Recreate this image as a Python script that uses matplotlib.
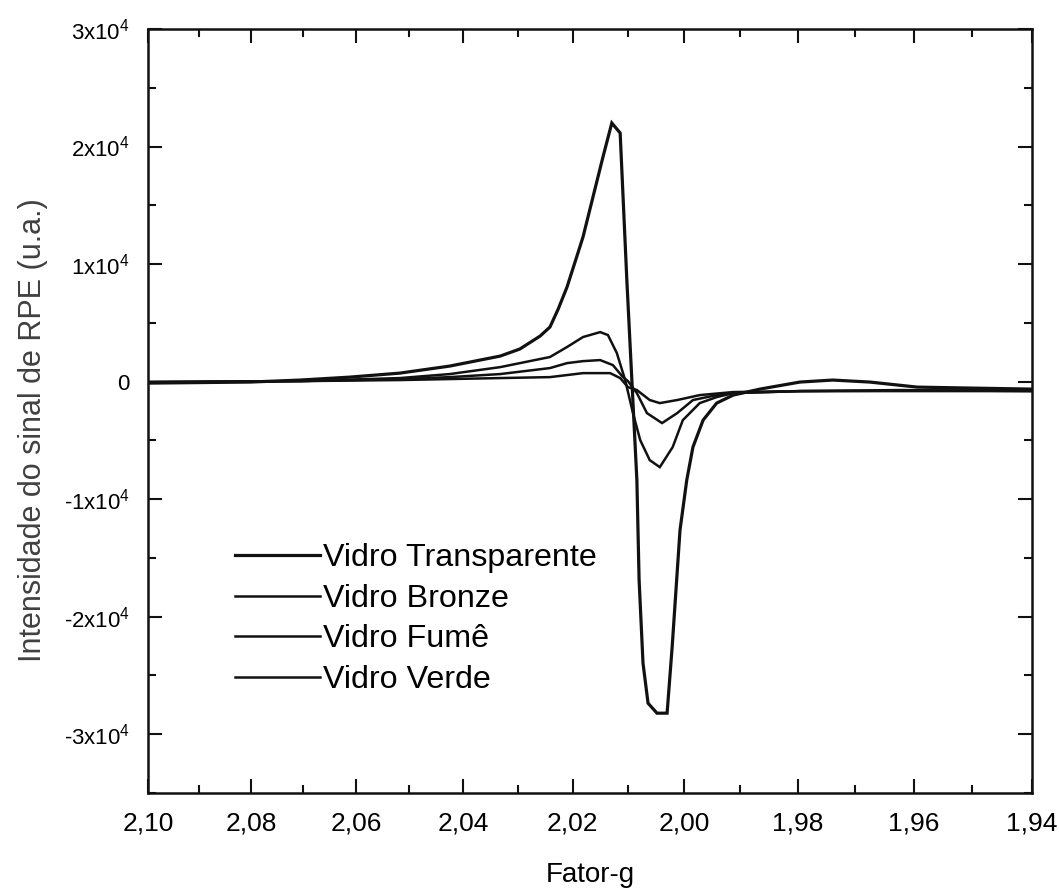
import numpy as np
import matplotlib
matplotlib.use("Agg")
import matplotlib.pyplot as plt
from matplotlib.ticker import MultipleLocator, FuncFormatter

# Fonte parecida com Arial
plt.rcParams['font.family'] = ['Liberation Sans', 'DejaVu Sans']
plt.rcParams['mathtext.fontset'] = 'custom'
plt.rcParams['mathtext.rm'] = 'Liberation Sans'
plt.rcParams['mathtext.it'] = 'Liberation Sans:italic'

# Dados (fator-g, intensidade u.a.)
g_transparente = [2.1000, 2.0802, 2.0706, 2.0612, 2.0518, 2.0425, 2.0332, 2.0296,
                  2.0259, 2.0241, 2.0226, 2.0210, 2.0196, 2.0181, 2.0163, 2.0145,
                  2.0129, 2.0114, 2.0102, 2.0093, 2.0084, 2.0080, 2.0073, 2.0064,
                  2.0048, 2.0030, 2.0021, 2.0007, 1.9995, 1.9984, 1.9966, 1.9942,
                  1.9913, 1.9866, 1.9796, 1.9739, 1.9675, 1.9594, 1.9504, 1.9400]
y_transparente = [-130, -40, 130, 380, 720, 1320, 2170, 2770,
                  3870, 4640, 6170, 8040, 10090, 12300, 15700, 19100,
                  22000, 21150, 8640, 130, -8380, -16890, -23960, -27360,
                  -28210, -28210, -22600, -12640, -8380, -5570, -3280, -1830,
                  -1150, -640, -40, 130, -40, -470, -550, -640]

g_bronze = [2.1000, 2.0706, 2.0518, 2.0425, 2.0332, 2.0241, 2.0210, 2.0181,
            2.0150, 2.0136, 2.0120, 2.0105, 2.0091, 2.0078, 2.0061, 2.0043,
            2.0020, 2.0002, 1.9972, 1.9942, 1.9913, 1.9796, 1.9623, 1.9400]
y_bronze = [-40, 40, 300, 640, 1230, 2090, 2940, 3790,
            4210, 3960, 2430, 130, -2680, -4980, -6680, -7280,
            -5570, -3280, -1830, -1320, -980, -810, -720, -810]

g_fume = [2.1000, 2.0706, 2.0518, 2.0425, 2.0332, 2.0241, 2.0210, 2.0181,
          2.0150, 2.0127, 2.0109, 2.0100, 2.0084, 2.0066, 2.0039, 2.0012,
          1.9984, 1.9942, 1.9913, 1.9796, 1.9400]
y_fume = [-40, 40, 210, 380, 640, 1150, 1570, 1740,
          1830, 1400, 380, 40, -980, -2680, -3530, -2680,
          -1570, -1150, -980, -810, -810]

g_verde = [2.1000, 2.0706, 2.0518, 2.0332, 2.0241, 2.0181, 2.0132, 2.0114,
           2.0100, 2.0084, 2.0061, 2.0043, 2.0012, 1.9972, 1.9913, 1.9796,
           1.9400]
y_verde = [-40, 40, 130, 300, 380, 720, 720, 300,
           -470, -720, -1570, -1830, -1570, -1150, -890, -810,
           -720]

series = [
    ("Vidro Transparente", g_transparente, y_transparente, 2.3),
    ("Vidro Bronze", g_bronze, y_bronze, 1.8),
    ("Vidro Fumê", g_fume, y_fume, 1.8),
    ("Vidro Verde", g_verde, y_verde, 1.8),
]

fig = plt.figure(figsize=(10.59, 8.91), dpi=100)
ax = fig.add_axes([0.1398, 0.110, 0.8347, 0.8575])

# eixo linear em campo magnetico -> linear em 1/g (funcao crescente -1/g)
ax.set_xscale('function', functions=(lambda g: -1.0 / np.asarray(g, dtype=float),
                                     lambda u: -1.0 / np.asarray(u, dtype=float)))

for nome, gx, yy, lw in series:
    ax.plot(gx, yy, color='#111111', lw=lw, label=nome, solid_joinstyle='miter')

ax.set_xlim(2.10, 1.94)
ax.set_ylim(-35000, 30000)

ax.xaxis.set_major_locator(MultipleLocator(0.02))
ax.xaxis.set_minor_locator(MultipleLocator(0.01))
ax.yaxis.set_major_locator(MultipleLocator(10000))
ax.yaxis.set_minor_locator(MultipleLocator(5000))

ax.xaxis.set_major_formatter(FuncFormatter(lambda v, p: f"{v:.2f}".replace('.', ',')))


def fmt_y(v, p):
    n = int(round(v / 10000))
    if n == 0:
        return "0"
    return f"{n}x10$^{{4}}$"


ax.yaxis.set_major_formatter(FuncFormatter(fmt_y))

ax.tick_params(which='both', direction='in', top=True, right=True, width=1.5, color='#111111')
ax.tick_params(which='major', length=10)
ax.tick_params(which='minor', length=6)
ax.tick_params(axis='x', labelsize=19, pad=13)
ax.tick_params(axis='y', labelsize=16, pad=13)
for s in ax.spines.values():
    s.set_linewidth(1.8)
    s.set_color('#111111')

ax.set_xlabel("Fator-g", fontsize=20)
ax.xaxis.set_label_coords(0.5, -0.090)
ax.set_ylabel("Intensidade do sinal de RPE (u.a.)", fontsize=22, color='#404040')
ax.yaxis.set_label_coords(-0.113, 0.475)

ax.legend(loc='upper left', bbox_to_anchor=(0.0984, 0.327), frameon=False,
          fontsize=23.2, handlelength=2.64, handletextpad=0.1,
          labelspacing=0.33, borderpad=0, borderaxespad=0)

fig.savefig("out.png", dpi=100, facecolor='white')
